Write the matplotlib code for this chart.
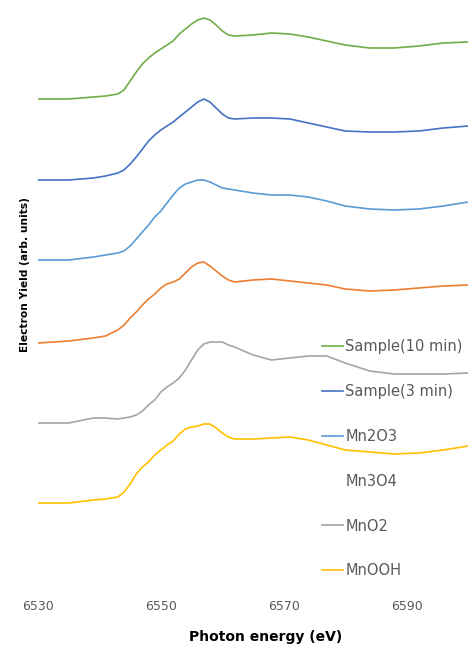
import matplotlib.pyplot as plt

plt.rcParams['font.family'] = ['DejaVu Sans']

# photon energy (eV)
energy = [6530, 6535, 6539, 6541,
          6543, 6544, 6545, 6546, 6547, 6548, 6549, 6550, 6551, 6552,
          6553, 6554, 6555, 6556, 6557, 6558, 6559, 6560, 6561, 6562,
          6565, 6568, 6571, 6574, 6577, 6580, 6584, 6588, 6592, 6596, 6600]

# electron yield (arb. units), spectra already stacked with offsets
sample_10 = [493, 493, 495, 496,
             498, 502, 511, 520, 528, 534, 539, 543, 547, 551,
             558, 563, 568, 572, 574, 572, 567, 561, 557, 556,
             557, 559, 558, 555, 551, 547, 544, 544, 546, 549, 550]
sample_3 = [412, 412, 414, 416,
            419, 422, 428, 435, 443, 451, 457, 462, 466, 470,
            475, 480, 485, 490, 493, 490, 484, 478, 474, 473,
            474, 474, 473, 469, 465, 461, 460, 460, 461, 464, 466]
mn2o3 = [332, 332, 335, 337,
         339, 341, 346, 353, 360, 367, 375, 381, 389, 397,
         404, 408, 410, 412, 412, 410, 407, 404, 403, 402,
         399, 397, 397, 395, 391, 386, 383, 382, 383, 386, 390]
mn3o4 = [249, 251, 254, 256,
         262, 267, 274, 280, 287, 293, 298, 304, 308, 310,
         313, 319, 325, 329, 330, 326, 321, 316, 312, 310,
         312, 313, 311, 309, 307, 303, 301, 302, 304, 306, 307]
mno2 = [169, 169, 174, 174,
        173, 174, 175, 177, 181, 187, 192, 200, 205, 209,
        214, 222, 232, 242, 248, 250, 250, 250, 247, 245,
        237, 232, 234, 236, 236, 229, 221, 218, 218, 218, 219]
mnooh = [89, 89, 92, 93,
         95, 100, 108, 118, 125, 130, 137, 142, 147, 151,
         158, 163, 165, 166, 168, 168, 164, 159, 155, 153,
         153, 154, 155, 152, 147, 142, 140, 138, 139, 142, 146]

labels = ['Sample(10 min)', 'Sample(3 min)', 'Mn2O3', 'Mn3O4', 'MnO2', 'MnOOH']
colors = ['#70AD47', '#4472C4', '#5B9BD5', '#ED7D31', '#A5A5A5', '#FFC000']
series = [sample_10, sample_3, mn2o3, mn3o4, mno2, mnooh]

W, H = 468, 646
fig = plt.figure(figsize=(W / 100, H / 100), dpi=100)
ax = fig.add_axes([38 / W, 1 - 592 / H, 1 - 38 / W, 592 / H])

for y, c, lab in zip(series, colors, labels):
    ax.plot(energy, y, color=c, lw=1.2, label=lab)

ax.set_xlim(6530, 6600)
ax.set_ylim(0, 592)
ax.set_xticks([6530, 6550, 6570, 6590])
ax.set_yticks([])
ax.tick_params(axis='x', length=0, pad=6, labelsize=9, labelcolor='#595959')
for s in ax.spines.values():
    s.set_visible(False)

leg = ax.legend(loc='upper left', bbox_to_anchor=(322 / W, 1 - 339 / H),
                bbox_transform=fig.transFigure, frameon=False, fontsize=10.5,
                handlelength=1.45, handletextpad=0.15, labelspacing=2.05,
                borderpad=0, borderaxespad=0, labelcolor='#595959')
leg.get_lines()[3].set_visible(False)

fig.text(25 / W, 1 - 275 / H, 'Electron Yield (arb. units)', rotation=90,
         ha='center', va='center', fontsize=7.7, fontweight='bold')
fig.text(266 / W, 1 - 637 / H, 'Photon energy (eV)', ha='center', va='center',
         fontsize=10, fontweight='bold')

fig.savefig('out.png', dpi=100)
